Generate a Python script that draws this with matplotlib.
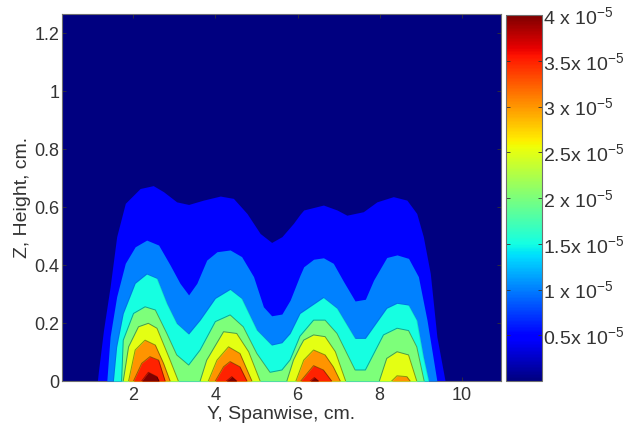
import matplotlib
matplotlib.use("Agg")
import matplotlib.pyplot as plt
from matplotlib.cm import ScalarMappable
from matplotlib.colors import Normalize

plt.rcParams['font.family'] = ['Liberation Sans', 'DejaVu Sans']
plt.rcParams['mathtext.default'] = 'regular'

W, H = 626, 429
TEXT = '#333333'
FRAME = '#707070'

# contour levels (value units) and their boundaries Z(Y)
background_level = 0.0
y_05 = [1.13,1.16,1.28,1.44,1.60,1.81,2.17,2.49,2.74,3.06,3.35,3.71,4.12,4.44,4.77,5.09,5.37,5.62,5.90,6.06,6.15,6.63,6.96,7.20,7.60,7.93,8.33,8.66,8.90,9.06,9.23,9.39,9.59]
z_05 = [0,.038,.176,.325,.498,.613,.664,.674,.653,.618,.609,.624,.638,.630,.578,.509,.478,.498,.544,.575,.590,.607,.590,.572,.584,.618,.636,.624,.578,.498,.371,.153,0]
y_10 = [1.36,1.44,1.60,1.81,2.05,2.33,2.62,2.90,3.14,3.35,3.55,3.79,4.04,4.36,4.64,4.93,5.17,5.37,5.62,5.82,6.06,6.15,6.39,6.63,6.87,7.12,7.40,7.65,7.85,8.17,8.42,8.70,8.94,9.15,9.39]
z_10 = [0,.153,.291,.406,.463,.486,.469,.400,.337,.297,.337,.417,.446,.452,.429,.360,.256,.225,.231,.279,.365,.394,.420,.425,.406,.343,.276,.282,.348,.426,.435,.423,.360,.210,0]
y_15 = [1.52,1.60,1.76,2.05,2.33,2.58,2.82,3.06,3.35,3.63,4.00,4.36,4.64,5.01,5.37,5.62,5.82,6.06,6.63,6.96,7.40,7.65,8.17,8.42,8.70,8.90,9.06,9.19]
z_15 = [0,.118,.233,.337,.369,.354,.268,.199,.162,.210,.285,.316,.285,.176,.124,.132,.164,.233,.288,.251,.147,.147,.251,.268,.262,.210,.084,0]
y_20 = [1.72,1.76,2.01,2.29,2.54,2.82,3.06,3.35,3.63,4.00,4.36,4.68,5.01,5.33,5.62,5.82,6.06,6.39,6.67,6.96,7.40,7.65,8.09,8.42,8.70,8.90,9.08]
z_20 = [0,.141,.233,.256,.245,.164,.090,.055,.107,.205,.228,.187,.095,.030,.038,.073,.155,.210,.210,.164,.038,.038,.159,.182,.174,.118,0]

y_25 = [[1.76,1.89,2.13,2.37,2.58,2.90,3.10],[3.63,3.79,4.20,4.52,4.81,5.09],[5.74,5.90,6.06,6.15,6.39,6.67,6.92,7.17],[7.99,8.17,8.42,8.70,8.90]]
z_25 = [[0,.118,.187,.199,.182,.072,0],[0,.072,.170,.164,.101,0],[0,.072,.118,.141,.159,.153,.101,0],[0,.078,.101,.090,0]]
y_30 = [[1.89,2.05,2.29,2.54,2.74,2.90],[3.83,4.04,4.32,4.60,4.89],[5.96,6.15,6.39,6.67,6.87,7.04],[8.29,8.42,8.66,8.74]]
z_30 = [[0,.107,.141,.124,.061,0],[0,.072,.118,.095,0],[0,.072,.107,.090,.049,0],[0,.018,.015,0]]
y_35 = [[2.01,2.21,2.41,2.62,2.78],[4.00,4.20,4.36,4.60,4.77],[6.08,6.39,6.63,6.83]]
z_35 = [[0,.061,.084,.072,0],[0,.049,.067,.049,0],[0,.053,.038,0]]
y_40 = [[2.21,2.37,2.58,2.63],[4.27,4.40,4.52],[6.31,6.41,6.51]]
z_40 = [[0,.030,.015,0],[0,.015,0],[0,.012,0]]

levels = [0.5e-5, 1e-5, 1.5e-5, 2e-5, 2.5e-5, 3e-5, 3.5e-5, 4e-5]
boundaries_y = [[y_05], [y_10], [y_15], [y_20], y_25, y_30, y_35, y_40]
boundaries_z = [[z_05], [z_10], [z_15], [z_20], z_25, z_30, z_35, z_40]
line_alpha = [0, 0, 0.1, 0.35, 0.4, 0.4, 0.4, 0.4]

x_ticks = [2, 4, 6, 8, 10]
z_ticks = [0, 0.2, 0.4, 0.6, 0.8, 1, 1.2]
z_tick_labels = ['0', '0.2', '0.4', '0.6', '0.8', '1', '1.2']
cbar_ticks = [0.5e-5, 1e-5, 1.5e-5, 2e-5, 2.5e-5, 3e-5, 3.5e-5, 4e-5]
cbar_labels = ['0.5x 10$^{-5}$', '1 x 10$^{-5}$', '1.5x 10$^{-5}$', '2 x 10$^{-5}$',
               '2.5x 10$^{-5}$', '3 x 10$^{-5}$', '3.5x 10$^{-5}$', '4 x 10$^{-5}$']

norm = Normalize(0, 4e-5)
cmap = plt.get_cmap('jet')


def rect(l, t, r, b):
    return [l / W, 1 - b / H, (r - l) / W, (b - t) / H]


fig = plt.figure(figsize=(W / 100, H / 100), dpi=100, facecolor='white')
ax = fig.add_axes(rect(62, 14, 501, 381))
ax.set_xlim(0.27, 10.95)
ax.set_ylim(0, 1.266)
ax.set_facecolor(cmap(norm(background_level)))

for i, lev in enumerate(levels):
    for ys, zs in zip(boundaries_y[i], boundaries_z[i]):
        ax.fill_between(ys, 0, zs, color=cmap(norm(lev)), lw=0, zorder=2 + i)
        if line_alpha[i] > 0:
            ax.plot(ys, zs, color='k', lw=0.7, alpha=line_alpha[i], zorder=2 + i)

ax.set_xticks(x_ticks)
ax.set_yticks(z_ticks)
ax.set_yticklabels(z_tick_labels)
ax.tick_params(direction='in', length=3, width=0.6, color='#333333', labelcolor=TEXT,
               labelsize=13, top=True, right=True)
ax.tick_params(axis='x', pad=4.5)
ax.tick_params(axis='y', pad=2)
ax.set_xlabel('Y, Spanwise, cm.', fontsize=14, color=TEXT, labelpad=1.5)
ax.set_ylabel('Z, Height, cm.', fontsize=14, color=TEXT, labelpad=2)
for s in ax.spines.values():
    s.set_color(FRAME)
    s.set_linewidth(0.8)

cax = fig.add_axes(rect(505.5, 15, 542, 381))
sm = ScalarMappable(norm=norm, cmap=cmap)
cb = fig.colorbar(sm, cax=cax)
cb.set_ticks(cbar_ticks)
cb.set_ticklabels(cbar_labels)
cb.ax.tick_params(direction='in', length=3, width=0.6, color='#333333', labelcolor=TEXT,
                  labelsize=14, pad=1, left=True, right=True)
cb.outline.set_edgecolor(FRAME)
cb.outline.set_linewidth(0.8)

fig.savefig('out.png', dpi=100, facecolor='white')
